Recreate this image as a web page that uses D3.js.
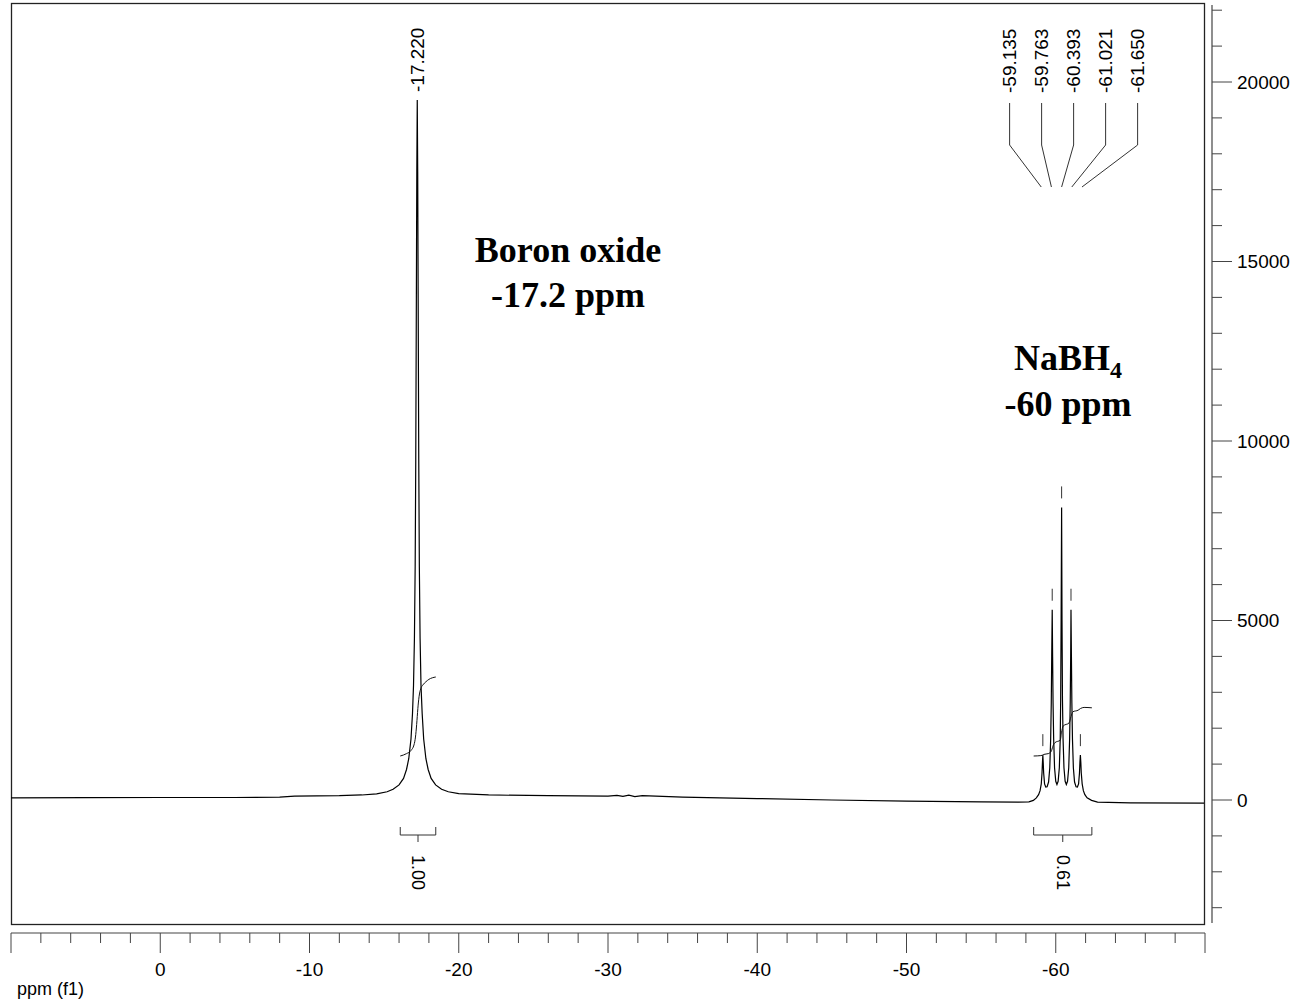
<!DOCTYPE html>
<html>
<head>
<meta charset="utf-8">
<script src="https://cdn.jsdelivr.net/npm/d3@7"></script>
<style>
  body { margin: 0; background: #fff; }
  svg { display: block; }
</style>
</head>
<body>
<div id="chart"></div>
<script>
// spectrum: [ppm, intensity]
const spectrum = [
  [10, 60], [5, 65], [0, 70], [-5, 70], [-8, 80], [-9, 110], [-12, 120], [-13.5, 140],
  [-14.5, 170], [-15.2, 230], [-15.6, 300], [-16.0, 420], [-16.3, 600], [-16.5, 850],
  [-16.65, 1150], [-16.8, 1700], [-16.9, 2400], [-16.97, 3200], [-17.03, 4500],
  [-17.08, 6500], [-17.12, 9500], [-17.16, 14000], [-17.19, 17500], [-17.22, 19500],
  [-17.25, 17500], [-17.28, 14000], [-17.32, 9500], [-17.36, 6500], [-17.41, 4500],
  [-17.47, 3200], [-17.55, 2400], [-17.65, 1700], [-17.8, 1150], [-17.95, 850],
  [-18.15, 600], [-18.45, 420], [-18.85, 300], [-19.3, 230], [-20, 180], [-22, 140],
  [-26, 120], [-30, 110], [-30.6, 130], [-31, 100], [-31.4, 135], [-31.8, 95],
  [-32.3, 120], [-35, 80], [-40, 40], [-45, 0], [-50, -30], [-55, -50], [-57.5, -60],
  [-58.2, -50], [-58.5, -10], [-58.7, 60], [-58.85, 150], [-58.95, 260], [-59.03, 450],
  [-59.08, 750], [-59.11, 1050], [-59.135, 1250], [-59.16, 1050], [-59.19, 750],
  [-59.25, 450], [-59.33, 360], [-59.42, 370], [-59.52, 500], [-59.6, 900],
  [-59.66, 1700], [-59.7, 2700], [-59.73, 4000], [-59.763, 5300], [-59.79, 4000],
  [-59.82, 2700], [-59.86, 1700], [-59.92, 900], [-60.0, 520], [-60.08, 430],
  [-60.16, 520], [-60.24, 900], [-60.3, 1700], [-60.33, 2800], [-60.36, 5000],
  [-60.393, 8150], [-60.42, 5000], [-60.45, 2800], [-60.49, 1700], [-60.55, 900],
  [-60.63, 520], [-60.71, 430], [-60.79, 520], [-60.87, 900], [-60.93, 1700],
  [-60.97, 2700], [-61.0, 4000], [-61.021, 5300], [-61.05, 4000], [-61.08, 2700],
  [-61.12, 1700], [-61.18, 900], [-61.26, 500], [-61.36, 370], [-61.45, 360],
  [-61.53, 450], [-61.59, 750], [-61.62, 1050], [-61.65, 1250], [-61.68, 1050],
  [-61.71, 750], [-61.77, 450], [-61.85, 260], [-61.95, 150], [-62.1, 60],
  [-62.4, -10], [-62.8, -60], [-65, -80], [-70, -85]
];

// picked peaks
const singlePeak = { ppm: -17.220, label: "-17.220" };
const multipletPeaks = [-59.135, -59.763, -60.393, -61.021, -61.650];
const multipletHeights = [1250, 5300, 8150, 5300, 1250];
const multipletLabels = ["-59.135", "-59.763", "-60.393", "-61.021", "-61.650"];

// integrals: running value curves and region summaries
const integralBoron = [
  [-16.08, 0], [-16.5, 0.03], [-16.8, 0.07], [-17.0, 0.14], [-17.1, 0.24], [-17.18, 0.4],
  [-17.22, 0.5], [-17.26, 0.6], [-17.34, 0.75], [-17.45, 0.85], [-17.6, 0.9],
  [-17.8, 0.94], [-18.0, 0.97], [-18.46, 1.0]
];
const integralNaBH4 = [
  [-58.52, 0], [-59.0, 0.005], [-59.1, 0.01], [-59.2, 0.02], [-59.5, 0.03], [-59.7, 0.06],
  [-59.8, 0.12], [-59.95, 0.17], [-60.3, 0.2], [-60.39, 0.3], [-60.5, 0.38], [-60.9, 0.42],
  [-61.02, 0.5], [-61.15, 0.56], [-61.5, 0.58], [-61.65, 0.6], [-61.9, 0.615], [-62.42, 0.61]
];
const integralRegions = [
  { from: -16.08, to: -18.46, value: "1.00" },
  { from: -58.52, to: -62.42, value: "0.61" }
];

const xMajor = [10, 0, -10, -20, -30, -40, -50, -60, -70];
const xLabels = [0, -10, -20, -30, -40, -50, -60];
const yMajor = [0, 5000, 10000, 15000, 20000];
const yTickRange = [-3000, 22000];

const W = 1299, H = 1004;
const frame = { left: 11, top: 3, right: 1204, bottom: 924 };

const svg = d3.select("#chart").append("svg")
  .attr("width", W)
  .attr("height", H)
  .style("font-family", "Arial, 'Liberation Sans', sans-serif");

const x = d3.scaleLinear().domain([10, -70]).range([11, 1205]);
const y = d3.scaleLinear().domain([0, 20000]).range([800, 82]);
const yInt = d3.scaleLinear().domain([0, 1]).range([756, 677]);

svg.append("clipPath").attr("id", "clip")
  .append("rect")
  .attr("x", frame.left).attr("y", frame.top)
  .attr("width", frame.right - frame.left).attr("height", frame.bottom - frame.top);

// frame
svg.append("rect")
  .attr("x", frame.left + 0.5).attr("y", frame.top + 0.5)
  .attr("width", frame.right - frame.left).attr("height", frame.bottom - frame.top)
  .attr("fill", "none").attr("stroke", "#222").attr("stroke-width", 1.3);

const plot = svg.append("g").attr("clip-path", "url(#clip)");

const line = d3.line().x(d => x(d[0])).y(d => y(d[1]));
plot.append("path")
  .datum(spectrum)
  .attr("d", line)
  .attr("fill", "none")
  .attr("stroke", "#000")
  .attr("stroke-width", 1.2);

// integral curves
const intLine = d3.line().x(d => x(d[0])).y(d => yInt(d[1])).curve(d3.curveMonotoneX);
[integralBoron, integralNaBH4].forEach(curve => {
  plot.append("path")
    .datum(curve)
    .attr("d", intLine)
    .attr("fill", "none")
    .attr("stroke", "#111")
    .attr("stroke-width", 1);
});

// integral brackets
const bracketY = 835;
integralRegions.forEach(r => {
  const x0 = x(r.from), x1 = x(r.to), xm = (x0 + x1) / 2;
  plot.append("path")
    .attr("d", `M${x0},${bracketY - 8}V${bracketY}H${x1}V${bracketY - 8}M${xm},${bracketY}V${bracketY + 7}`)
    .attr("fill", "none")
    .attr("stroke", "#333")
    .attr("stroke-width", 1);
  plot.append("text")
    .attr("transform", `translate(${xm},855) rotate(90)`)
    .attr("text-anchor", "start")
    .attr("dominant-baseline", "central")
    .attr("font-size", 18)
    .text(r.value);
});

// peak labels
plot.append("text")
  .attr("transform", `translate(${x(singlePeak.ppm)},92) rotate(-90)`)
  .attr("text-anchor", "start")
  .attr("dominant-baseline", "central")
  .attr("font-size", 19)
  .text(singlePeak.label);

const xc = x(multipletPeaks[2]);
multipletPeaks.forEach((p, i) => {
  const lx = xc + 12 + (i - 2) * 32;
  plot.append("text")
    .attr("transform", `translate(${lx},93) rotate(-90)`)
    .attr("text-anchor", "start")
    .attr("dominant-baseline", "central")
    .attr("font-size", 19)
    .text(multipletLabels[i]);
  plot.append("path")
    .attr("d", `M${lx},103V145L${x(p) + (i - 2) * 0.8},187`)
    .attr("fill", "none")
    .attr("stroke", "#333")
    .attr("stroke-width", 1);
  // pick marker above the peak
  const top = y(multipletHeights[i]);
  plot.append("line")
    .attr("x1", x(p)).attr("x2", x(p))
    .attr("y1", top - 21).attr("y2", top - 9)
    .attr("stroke", "#333")
    .attr("stroke-width", 1);
});

// annotations
const serif = "'Liberation Serif', 'Times New Roman', serif";
const ann = plot.append("g")
  .attr("font-family", serif)
  .attr("font-weight", "bold")
  .attr("font-size", 36)
  .attr("text-anchor", "middle");
ann.append("text").attr("x", 568).attr("y", 262).text("Boron oxide");
ann.append("text").attr("x", 568).attr("y", 307).text("-17.2 ppm");
const nab = ann.append("text").attr("x", 1068).attr("y", 370);
nab.append("tspan").text("NaBH");
nab.append("tspan").attr("font-size", 24).attr("dy", 8).text("4");
ann.append("text").attr("x", 1068).attr("y", 416).text("-60 ppm");

// x axis (ppm)
const axisY = 933;
const gx = svg.append("g").attr("stroke", "#444");
gx.append("line")
  .attr("x1", x(10)).attr("x2", x(-70))
  .attr("y1", axisY).attr("y2", axisY)
  .attr("stroke-width", 1.2);
d3.range(10, -70.1, -2).forEach(v => {
  const major = xMajor.includes(v);
  gx.append("line")
    .attr("x1", x(v)).attr("x2", x(v))
    .attr("y1", axisY).attr("y2", axisY + (major ? 20 : 10))
    .attr("stroke-width", 1);
});
svg.append("g").selectAll("text").data(xLabels).join("text")
  .attr("x", d => x(d))
  .attr("y", 976)
  .attr("text-anchor", "middle")
  .attr("font-size", 19)
  .text(d => d);
svg.append("text")
  .attr("x", 17).attr("y", 995)
  .attr("font-size", 18)
  .text("ppm (f1)");

// y axis (intensity) on the right
const axisX = 1212;
const gy = svg.append("g").attr("stroke", "#444");
gy.append("line")
  .attr("x1", axisX).attr("x2", axisX)
  .attr("y1", 5).attr("y2", 923)
  .attr("stroke-width", 1.2);
d3.range(yTickRange[0], yTickRange[1] + 1, 1000).forEach(v => {
  const major = yMajor.includes(v);
  gy.append("line")
    .attr("x1", axisX).attr("x2", axisX + (major ? 20 : 10))
    .attr("y1", y(v)).attr("y2", y(v))
    .attr("stroke-width", 1);
});
svg.append("g").selectAll("text").data(yMajor).join("text")
  .attr("x", 1237)
  .attr("y", d => y(d))
  .attr("dominant-baseline", "central")
  .attr("font-size", 19)
  .text(d => d);
</script>
</body>
</html>
